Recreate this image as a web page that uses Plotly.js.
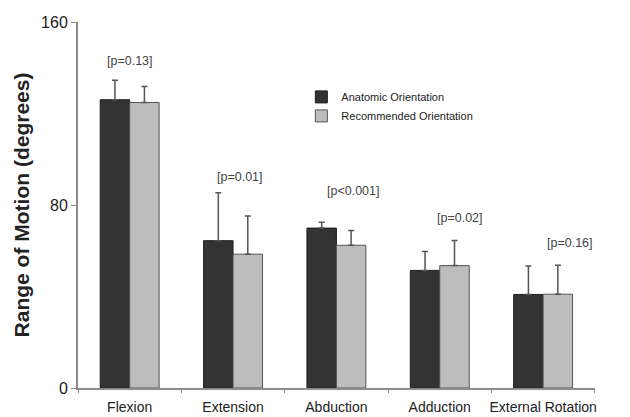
<!DOCTYPE html>
<html>
<head>
<meta charset="utf-8">
<script src="https://cdn.plot.ly/plotly-3.0.1.min.js"></script>
<style>html,body{margin:0;padding:0;background:#fff;}#chart{width:630px;height:417px;}</style>
</head>
<body>
<div id="chart"></div>
<script>
const categories = ["Flexion", "Extension", "Abduction", "Adduction", "External Rotation"];
const anatomicValues = [126, 64.4, 69.9, 51.4, 40.9];
const anatomicErrors = [8.5, 21, 2.6, 8.3, 12.4];
const recommendedValues = [124.8, 58.5, 62.4, 53.5, 41];
const recommendedErrors = [7, 16.7, 6.4, 11, 12.7];
const pLabels = ["[p=0.13]", "[p=0.01]", "[p<0.001]", "[p=0.02]", "[p=0.16]"];
const yTicks = [0, 80, 160];

const zeros = categories.map(() => 0);
const font = "Liberation Sans, Arial, sans-serif";

const traces = [
  {
    type: "bar", name: "Anatomic Orientation", x: categories, y: anatomicValues,
    marker: {color: "#333333", line: {color: "#1e1e1e", width: 1}},
    error_y: {type: "data", symmetric: false, array: anatomicErrors, arrayminus: zeros,
              color: "#555555", thickness: 1.5, width: 3}
  },
  {
    type: "bar", name: "Recommended Orientation", x: categories, y: recommendedValues,
    marker: {color: "#bdbdbd", line: {color: "#555555", width: 1}},
    error_y: {type: "data", symmetric: false, array: recommendedErrors, arrayminus: zeros,
              color: "#555555", thickness: 1.5, width: 3}
  }
];

// annotation placement (layout only)
const annPos = [
  {dx: 0, y: 142.8}, {dx: 0.07, y: 92.2}, {dx: 0.16, y: 86.3}, {dx: 0.2, y: 74.4}, {dx: 0.26, y: 63.6}
];

const annotations = pLabels.map((t, i) => ({
  x: i + annPos[i].dx, y: annPos[i].y, xref: "x", yref: "y",
  text: t, showarrow: false, font: {family: font, size: 12.5, color: "#444"}
}));

const layout = {
  width: 630, height: 417,
  margin: {l: 78, r: 35, t: 22, b: 29},
  paper_bgcolor: "#fff", plot_bgcolor: "#fff",
  barmode: "group", bargap: 0.43, bargroupgap: 0,
  font: {family: font, color: "#222"},
  showlegend: true,
  legend: {x: 0.432, y: 0.835, xanchor: "left", yanchor: "top",
           font: {family: font, size: 11, color: "#222"},
           bgcolor: "rgba(0,0,0,0)", tracegroupgap: 0, itemwidth: 30},
  xaxis: {
    type: "category", showline: true, linecolor: "#8c8c8c", linewidth: 2,
    ticks: "outside", tickson: "boundaries", ticklen: 3, tickcolor: "#8c8c8c", tickangle: 0,
    ticklabelstandoff: 5,
    tickfont: {family: font, size: 14, color: "#222"}, showgrid: false, zeroline: false
  },
  yaxis: {
    range: [0, 160], tickvals: yTicks, showline: true, linecolor: "#8c8c8c", linewidth: 2,
    ticks: "outside", ticklen: 5, tickcolor: "#8c8c8c", showgrid: false, zeroline: false,
    tickfont: {family: font, size: 16, color: "#222"},
    title: {text: "Range of Motion (degrees)", font: {family: font, size: 21, color: "#222", weight: "bold"}, standoff: 6}
  },
  annotations: annotations
};

Plotly.newPlot("chart", traces, layout, {staticPlot: true, displayModeBar: false});
</script>
</body>
</html>
